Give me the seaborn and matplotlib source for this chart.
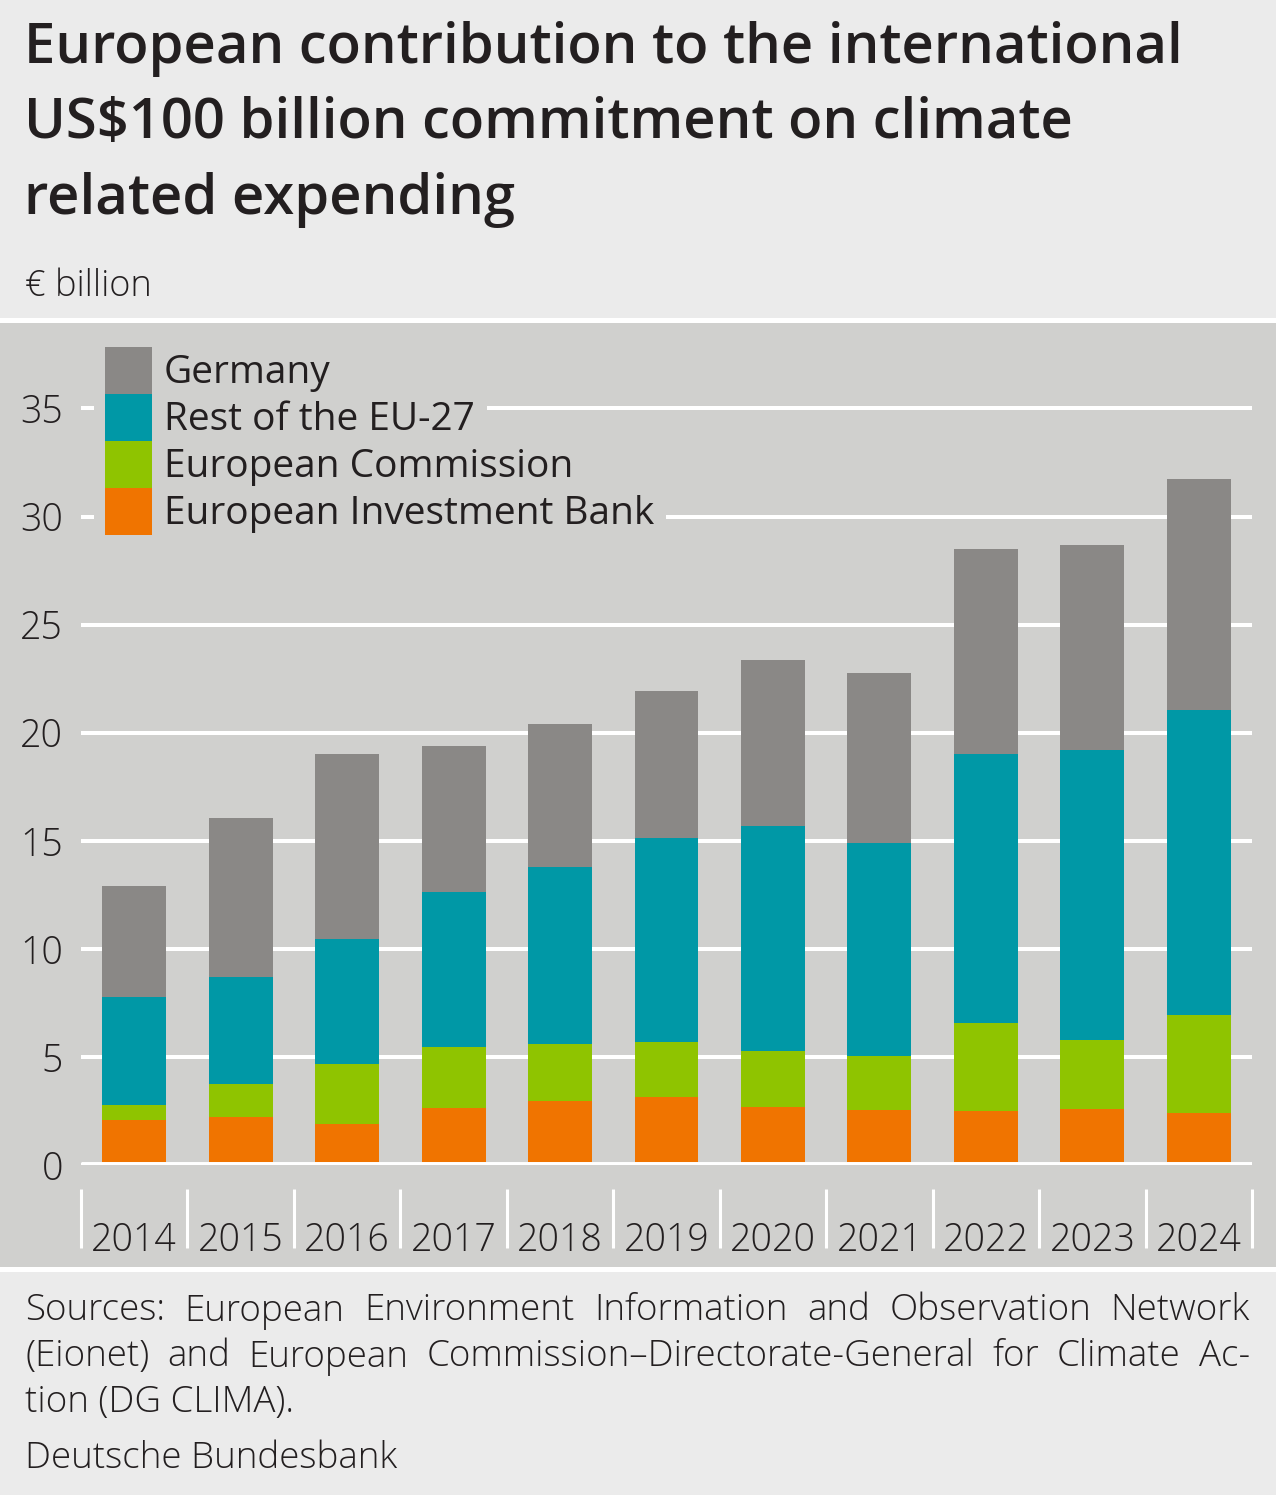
import numpy as np
import matplotlib
matplotlib.use("Agg")
import matplotlib.pyplot as plt
from matplotlib.patches import Rectangle
import seaborn as sns

# Data (EUR billion)
years = ['2014', '2015', '2016', '2017', '2018', '2019', '2020', '2021', '2022', '2023', '2024']
eib = [2.08, 2.22, 1.90, 2.64, 2.96, 3.15, 2.69, 2.55, 2.50, 2.59, 2.41]
commission = [0.70, 1.53, 2.78, 2.82, 2.64, 2.54, 2.59, 2.50, 4.07, 3.20, 4.53]
rest_eu = [5.00, 4.95, 5.78, 7.18, 8.20, 9.45, 10.41, 9.85, 12.46, 13.41, 14.12]
germany = [5.14, 7.36, 8.57, 6.76, 6.62, 6.80, 7.69, 7.88, 9.47, 9.50, 10.70]

series = ['Germany', 'Rest of the EU-27', 'European Commission', 'European Investment Bank']
colors = ['#8a8886', '#0098a6', '#8fc400', '#f07400']

yticks = [0, 5, 10, 15, 20, 25, 30, 35]

title = "European contribution to the international\nUS$100 billion commitment on climate\nrelated expending"
unit = "€ billion"
source_lines = [
    "Sources: European Environment Information and Observation Network",
    "(Eionet) and European Commission\u2013Directorate-General for Climate Ac-",
    "tion (DG CLIMA).",
]
publisher = "Deutsche Bundesbank"

sns.set_style("white")
plt.rcParams['font.family'] = ['Open Sans', 'DejaVu Sans']
plt.rcParams['text.color'] = '#231f20'

W, H = 1276, 1495
fig = plt.figure(figsize=(W / 100, H / 100), dpi=100)
fig.patch.set_facecolor('#ebebeb')


def fx(x):
    return x / W


def fy(y):
    return 1 - y / H


panel = '#d0d0ce'
# white bands and plot panel
fig.patches.append(Rectangle((0, fy(1272)), 1, fy(318) - fy(1272), transform=fig.transFigure,
                             facecolor='white', edgecolor='none', zorder=-2))
fig.patches.append(Rectangle((0, fy(1267)), 1, fy(323) - fy(1267), transform=fig.transFigure,
                             facecolor=panel, edgecolor='none', zorder=-1))

# header
fig.text(fx(24), fy(21), title, fontsize=40.5, fontweight='semibold', va='top', ha='left',
         linespacing=1.46, color='#231f20')
fig.text(fx(25), fy(287), unit, fontsize=26, fontweight='light', va='center', ha='left')

# axes
ax = fig.add_axes([fx(81), fy(1165), fx(1252) - fx(81), fy(335) - fy(1165)])
ax.patch.set_alpha(0)

cum = np.cumsum([eib, commission, rest_eu, germany], axis=0)[::-1]
for vals, c in zip(cum, colors):
    sns.barplot(x=years, y=vals, order=years, color=c, saturation=1, width=0.6,
                errorbar=None, ax=ax, linewidth=0, zorder=2)

ax.set_xlim(-0.5, len(years) - 0.5)
ax.set_ylim(0, 38.4)
ax.set_yticks(yticks)
ax.set_yticklabels([str(t) for t in yticks])
ax.grid(axis='y', color='white', linewidth=2.9)
ax.grid(axis='x', visible=False)
ax.set_axisbelow(True)
ax.axhline(0, color='white', linewidth=5, zorder=3, solid_capstyle='butt')
for s in ax.spines.values():
    s.set_visible(False)
ax.tick_params(axis='y', length=0, pad=13, labelsize=27, labelcolor='#231f20')
ax.tick_params(axis='x', length=0, pad=41, labelsize=27, labelcolor='#231f20')
for lab in ax.get_xticklabels() + ax.get_yticklabels():
    lab.set_fontweight('light')
ax.set_xlabel('')
ax.set_ylabel('')

# category separators below the axis
ax.vlines(np.arange(-0.5, len(years)), -0.029, -0.1, transform=ax.get_xaxis_transform(),
          color='white', linewidth=2.2, clip_on=False)

# legend
renderer = fig.canvas.get_renderer()
row_h = 47
for i, (name, c) in enumerate(zip(series, colors)):
    top = 347 + i * row_h
    t = fig.text(fx(164), fy(top + row_h / 2 + 3), name, fontsize=28, va='center', ha='left', zorder=5)
    bb = t.get_window_extent(renderer)
    fig.patches.append(Rectangle((fx(94), fy(top + row_h)), bb.x1 / W + fx(12) - fx(94), fy(top) - fy(top + row_h),
                                 transform=fig.transFigure, facecolor=panel, edgecolor='none', zorder=3))
    fig.patches.append(Rectangle((fx(105), fy(top + row_h)), fx(152) - fx(105), fy(top) - fy(top + row_h),
                                 transform=fig.transFigure, facecolor=c, edgecolor='none', zorder=4))

# footer, justified
x0, x1 = 25, 1250
line_y = [1311, 1357, 1402]
fs = 26.5
for k, (line, y) in enumerate(zip(source_lines, line_y)):
    words = line.split(' ')
    if k == len(source_lines) - 1:
        fig.text(fx(x0), fy(y), line, fontsize=fs, fontweight='light', va='center', ha='left')
        continue
    texts = [fig.text(0, fy(y), w, fontsize=fs, fontweight='light', va='center', ha='left') for w in words]
    widths = [tt.get_window_extent(renderer).width for tt in texts]
    gap = (x1 - x0 - sum(widths)) / (len(words) - 1)
    pos = x0
    for tt, wd in zip(texts, widths):
        tt.set_x(fx(pos))
        pos += wd + gap
fig.text(fx(25), fy(1458), publisher, fontsize=fs, fontweight='light', va='center', ha='left')

fig.savefig('out.png', dpi=100, facecolor=fig.get_facecolor())
